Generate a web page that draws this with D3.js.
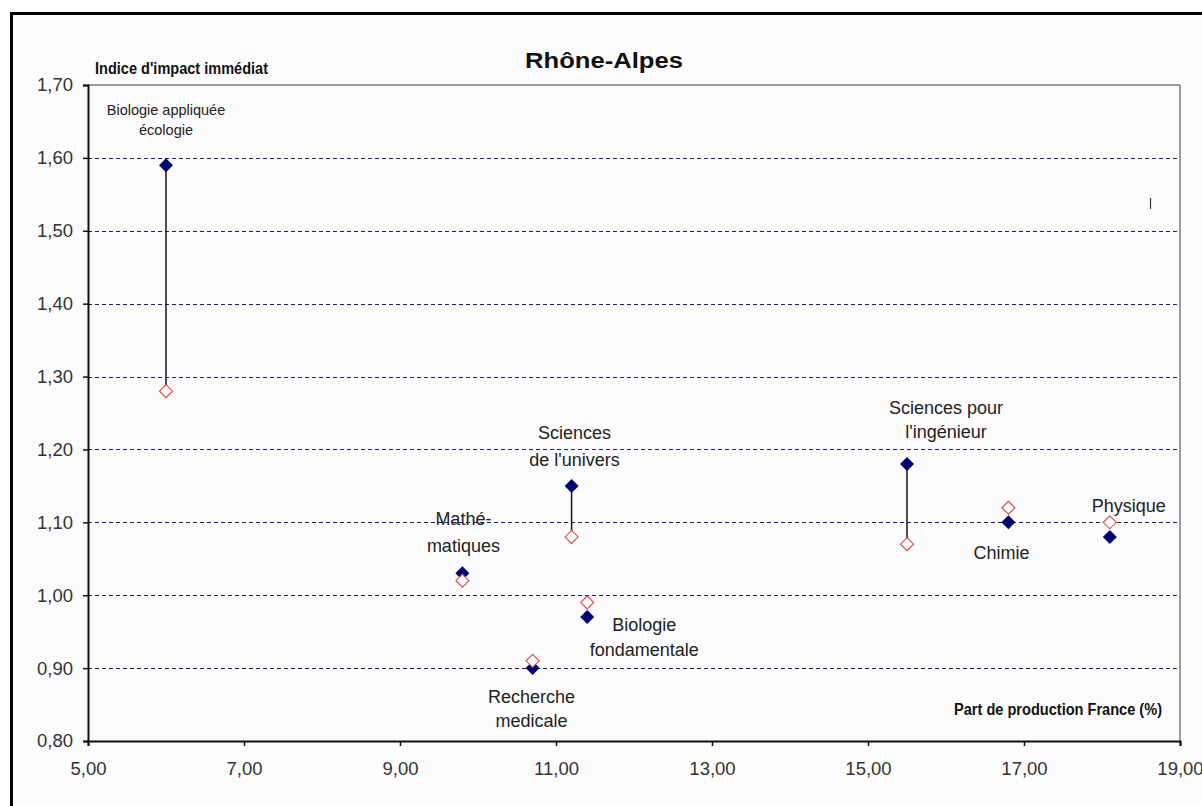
<!DOCTYPE html>
<html>
<head>
<meta charset="utf-8">
<script src="https://cdn.jsdelivr.net/npm/d3@7"></script>
<style>
  html, body { margin: 0; padding: 0; background: #ffffff; }
  svg { display: block; }
  text { font-family: "Liberation Sans", Arial, sans-serif; }
</style>
</head>
<body>
<svg id="chart" width="1202" height="806"></svg>
<script>
// Disciplines (scientific fields)
const categories = [
  "Biologie appliquée écologie",
  "Mathématiques",
  "Sciences de l'univers",
  "Recherche medicale",
  "Biologie fondamentale",
  "Sciences pour l'ingénieur",
  "Chimie",
  "Physique"
];
// Share of French production (%)
const partProduction = [6.0, 9.8, 11.2, 10.7, 11.4, 15.5, 16.8, 18.1];
// Immediate impact index, first series (filled diamonds)
const impactA = [1.59, 1.03, 1.15, 0.90, 0.97, 1.18, 1.10, 1.08];
// Immediate impact index, second series (open diamonds)
const impactB = [1.28, 1.02, 1.08, 0.91, 0.99, 1.07, 1.12, 1.10];
// Label lines for each discipline
const labelLines = [
  ["Biologie appliquée", "écologie"],
  ["Mathé-", "matiques"],
  ["Sciences", "de l'univers"],
  ["Recherche", "medicale"],
  ["Biologie", "fondamentale"],
  ["Sciences pour", "l'ingénieur"],
  ["Chimie"],
  ["Physique"]
];
const xTicks = [5, 7, 9, 11, 13, 15, 17, 19];
const yTicks = [0.8, 0.9, 1.0, 1.1, 1.2, 1.3, 1.4, 1.5, 1.6, 1.7];

// Label placement relative to the filled marker (pixels)
const labelPlacement = [
  {dx: 0,  dy: -50, lh: 20, size: 14.5},
  {dx: 1,  dy: -48, lh: 27, size: 18},
  {dx: 3,  dy: -47, lh: 27, size: 18},
  {dx: -1, dy: 35,  lh: 24, size: 18},
  {dx: 57, dy: 14,  lh: 25, size: 18},
  {dx: 39, dy: -50, lh: 24, size: 18},
  {dx: -7, dy: 37,  lh: 24, size: 18},
  {dx: 19, dy: -25, lh: 24, size: 18}
];

const svg = d3.select("#chart");
const fmt = v => d3.format(".2f")(v).replace(".", ",");

const plot = {left: 88, right: 1180, top: 85, bottom: 741};
const x = d3.scaleLinear().domain([5, 19]).range([plot.left, plot.right]);
const y = d3.scaleLinear().domain([0.8, 1.7]).range([plot.bottom, plot.top]);

// Outer frame
svg.append("rect")
  .attr("x", 11.5).attr("y", 13.5)
  .attr("width", 1202).attr("height", 806)
  .attr("fill", "#fcfcfc")
  .attr("stroke", "#000").attr("stroke-width", 3);

// Plot border (top & right in grey)
svg.append("line")
  .attr("x1", plot.left).attr("x2", plot.right)
  .attr("y1", plot.top).attr("y2", plot.top)
  .attr("stroke", "#9a9a9a").attr("stroke-width", 2);
svg.append("line")
  .attr("x1", plot.right).attr("x2", plot.right)
  .attr("y1", plot.top).attr("y2", plot.bottom)
  .attr("stroke", "#9a9a9a").attr("stroke-width", 2);

// Dashed horizontal gridlines
svg.append("g")
  .selectAll("line")
  .data(yTicks.filter(t => t > 0.8 + 1e-9 && t < 1.7 - 1e-9))
  .join("line")
  .attr("x1", plot.left).attr("x2", plot.right)
  .attr("y1", d => Math.round(y(d)) + 0.5).attr("y2", d => Math.round(y(d)) + 0.5)
  .attr("stroke", "#1a1a70").attr("stroke-width", 1.2)
  .attr("stroke-dasharray", "4,3");

// Y axis
const yAxis = svg.append("g")
  .attr("transform", `translate(${plot.left},0)`)
  .call(d3.axisLeft(y).tickValues(yTicks).tickFormat(fmt).tickSize(5).tickPadding(10));
// X axis
const xAxis = svg.append("g")
  .attr("transform", `translate(0,${plot.bottom})`)
  .call(d3.axisBottom(x).tickValues(xTicks).tickFormat(fmt).tickSize(5).tickPadding(16));

[yAxis, xAxis].forEach(g => {
  g.select(".domain").attr("stroke", "#111").attr("stroke-width", 2);
  g.selectAll(".tick line").attr("stroke", "#111").attr("stroke-width", 1.5);
  g.selectAll(".tick text")
    .attr("fill", "#333")
    .style("font-size", "18.5px")
    .style("font-family", "'Liberation Sans', Arial, sans-serif");
});

const points = categories.map((c, i) => ({
  name: c, px: partProduction[i], a: impactA[i], b: impactB[i],
  lines: labelLines[i], place: labelPlacement[i]
}));

// Vertical connectors between the two series where they clearly separate
svg.append("g")
  .selectAll("line")
  .data(points.filter(d => Math.abs(d.a - d.b) >= 0.05))
  .join("line")
  .attr("x1", d => x(d.px)).attr("x2", d => x(d.px))
  .attr("y1", d => y(d.a)).attr("y2", d => y(d.b))
  .attr("stroke", "#222").attr("stroke-width", 1.6);

const diamond = r => `M0,${-r}L${r},0L0,${r}L${-r},0Z`;

// Filled diamonds (series A)
svg.append("g")
  .selectAll("path")
  .data(points)
  .join("path")
  .attr("d", diamond(7))
  .attr("transform", d => `translate(${x(d.px)},${y(d.a)})`)
  .attr("fill", "#00006e");

// Open diamonds (series B)
svg.append("g")
  .selectAll("path")
  .data(points)
  .join("path")
  .attr("d", diamond(6.5))
  .attr("transform", d => `translate(${x(d.px)},${y(d.b)})`)
  .attr("fill", "#ffffff")
  .attr("stroke", "#dc4a42").attr("stroke-width", 1.1);

// Discipline labels
const lab = svg.append("g")
  .selectAll("text")
  .data(points)
  .join("text")
  .attr("text-anchor", "middle")
  .attr("fill", "#222")
  .style("font-size", d => d.place.size + "px")
  .attr("x", d => x(d.px) + d.place.dx)
  .attr("y", d => y(d.a) + d.place.dy);
lab.selectAll("tspan")
  .data(d => d.lines.map((t, k) => ({t, k, d})))
  .join("tspan")
  .attr("x", o => x(o.d.px) + o.d.place.dx)
  .attr("dy", o => o.k === 0 ? 0 : o.d.place.lh)
  .text(o => o.t);

// Title
svg.append("text")
  .attr("x", 604).attr("y", 68)
  .attr("text-anchor", "middle")
  .attr("fill", "#111")
  .attr("textLength", 158).attr("lengthAdjust", "spacingAndGlyphs")
  .style("font-size", "22px").style("font-weight", "bold")
  .text("Rhône-Alpes");

// Axis titles
svg.append("text")
  .attr("x", 95).attr("y", 74)
  .attr("fill", "#111")
  .attr("textLength", 173).attr("lengthAdjust", "spacingAndGlyphs")
  .style("font-size", "16px").style("font-weight", "bold")
  .text("Indice d'impact immédiat");
svg.append("text")
  .attr("x", 954).attr("y", 715)
  .attr("fill", "#111")
  .attr("textLength", 208).attr("lengthAdjust", "spacingAndGlyphs")
  .style("font-size", "16px").style("font-weight", "bold")
  .text("Part de production France (%)");

// Small stray mark in the plot
svg.append("line")
  .attr("x1", 1150.5).attr("x2", 1150.5)
  .attr("y1", 198).attr("y2", 209)
  .attr("stroke", "#333").attr("stroke-width", 1.2);
</script>
</body>
</html>
